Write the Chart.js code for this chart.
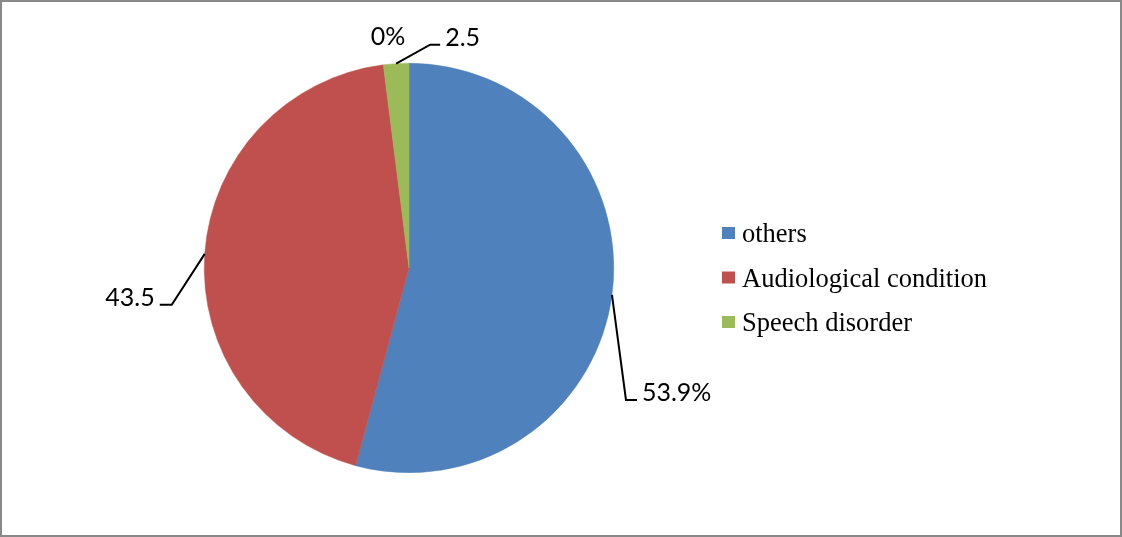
<!DOCTYPE html>
<html><head><meta charset="utf-8">
<script src="https://cdn.jsdelivr.net/npm/chart.js@4/dist/chart.umd.min.js"></script>
<style>html,body{margin:0;padding:0;background:#fff}#wrap{width:1122px;height:537px;position:relative}</style>
</head><body><div id="wrap"><canvas id="c" width="1122" height="537"></canvas></div>
<script>
const categories = ["others", "Audiological condition", "Speech disorder", ""];
const values = [54.2, 43.8, 2.0, 0];
const valueLabels = ["53.9%", "43.5", "2.5", "0%"];
const colors = ["#4F81BD", "#C0504D", "#9BBB59", "#F79646"];

// leader-line geometry per slice: elbow offset from anchor, horizontal length, side
const leaders = [
  {dx: 14, dy: 105, len: 11, side: 1},
  {dx: -33, dy: 51, len: 12, side: -1},
  {dx: 34, dy: -19, len: 10, side: 1},
  null
];

const deco = {
  id: 'deco',
  beforeDraw(chart) {
    const ctx = chart.ctx;
    ctx.save();
    ctx.fillStyle = '#fff';
    ctx.fillRect(0, 0, chart.width, chart.height);
    ctx.strokeStyle = '#898989';
    ctx.lineWidth = 2;
    ctx.strokeRect(1, 1, chart.width - 2, chart.height - 2);
    ctx.restore();
  },
  afterDraw(chart) {
    const ctx = chart.ctx;
    const meta = chart.getDatasetMeta(0);
    ctx.save();
    ctx.strokeStyle = '#000';
    ctx.fillStyle = '#000';
    ctx.lineWidth = 2;
    ctx.font = '25px Lato, "Open Sans", sans-serif';
    ctx.textBaseline = 'alphabetic';
    meta.data.forEach((arc, i) => {
      const mid = (arc.startAngle + arc.endAngle) / 2;
      const ax = arc.x + Math.cos(mid) * arc.outerRadius;
      const ay = arc.y + Math.sin(mid) * arc.outerRadius;
      const L = leaders[i];
      if (L) {
        const ex = ax + L.dx, ey = ay + L.dy;
        const hx = ex + L.side * L.len;
        ctx.beginPath();
        ctx.moveTo(ax, ay); ctx.lineTo(ex, ey); ctx.lineTo(hx, ey);
        ctx.stroke();
        ctx.textAlign = L.side > 0 ? 'left' : 'right';
        ctx.fillText(valueLabels[i], hx + L.side * 5, ey + 1);
      } else {
        ctx.textAlign = 'center';
        ctx.fillText(valueLabels[i], ax - 21, ay - 18);
      }
    });
    // legend
    ctx.font = '26.5px "Liberation Serif", "Times New Roman", serif';
    ctx.textAlign = 'left';
    let row = 0;
    categories.forEach((name, i) => {
      if (!name) return;
      const by = 242 + row * 44.5;
      ctx.fillStyle = colors[i];
      ctx.fillRect(722, by - 15, 13, 12);
      ctx.fillStyle = '#000';
      ctx.fillText(name, 742, by);
      row++;
    });
    ctx.restore();
  }
};

new Chart(document.getElementById('c'), {
  type: 'pie',
  data: {
    labels: categories,
    datasets: [{
      data: values,
      backgroundColor: colors,
      borderColor: colors,
      borderWidth: 0.5
    }]
  },
  options: {
    responsive: false,
    animation: false,
    layout: {padding: {left: 204, right: 508, top: 63, bottom: 64}},
    plugins: {legend: {display: false}, tooltip: {enabled: false}}
  },
  plugins: [deco]
});
</script></body></html>
